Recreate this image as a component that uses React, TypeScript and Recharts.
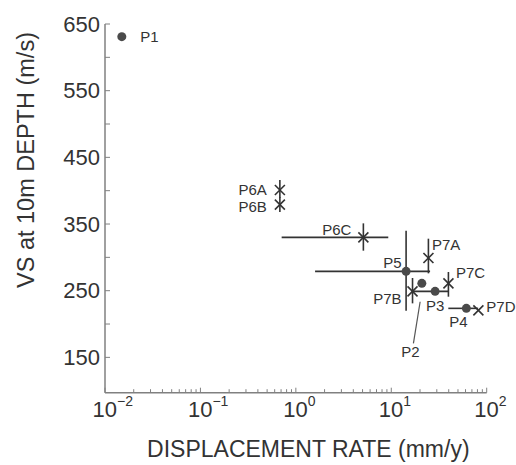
import React from "react";
import { ScatterChart, Scatter, XAxis, YAxis, ErrorBar, Label } from "recharts";

// round markers (P series)
const dotNames = ["P1", "P2", "P3", "P4", "P5"];
const dotRate = [0.015, 20.9, 28.8, 61.2, 14.3];
const dotRateLow = [0.015, 20.9, 16.9, 39.6, 1.59];
const dotRateHigh = [0.015, 20.9, 39.4, 81.3, 25.5];
const dotVs = [631, 261, 249, 223.5, 279];
const dotVsLow = [631, 261, 249, 223.5, 220];
const dotVsHigh = [631, 261, 249, 223.5, 340];

// cross markers
const crossNames = ["P6A", "P6B", "P6C", "P7A", "P7B", "P7C", "P7D"];
const crossRate = [0.68, 0.68, 5.1, 24.5, 16.7, 39.7, 81.8];
const crossRateLow = [0.68, 0.68, 0.71, 24.5, 16.7, 39.7, 81.8];
const crossRateHigh = [0.68, 0.68, 9.3, 24.5, 16.7, 39.7, 81.8];
const crossVs = [401, 379, 330, 299, 249, 261, 220.5];
const crossVsLow = [389, 368, 310, 276, 231, 241, 220.5];
const crossVsHigh = [416, 390, 351, 328, 269, 278, 220.5];

// axis ticks
const decades = [0.01, 0.1, 1, 10, 100];
const decadeExp = ["−2", "−1", "0", "1", "2"];
const minorMult = [2, 3, 4, 5, 6, 7, 8, 9];
const xTicks = [
  ...decades,
  ...decades.slice(0, 4).flatMap((d) => minorMult.map((m) => +(d * m).toPrecision(3))),
].sort((a, b) => a - b);
const yTicks = [150, 200, 250, 300, 350, 400, 450, 500, 550, 600, 650];
const yLabelled = [150, 250, 350, 450, 550, 650];

// label placement relative to the marker (px)
const place: Record<string, { dx: number; dy: number; a: "start" | "middle" | "end" }> = {
  P1: { dx: 18.5, dy: 0, a: "start" },
  P2: { dx: -11.5, dy: 68, a: "middle" },
  P3: { dx: 0, dy: 14, a: "middle" },
  P4: { dx: -8, dy: 13.5, a: "middle" },
  P5: { dx: -4.5, dy: -9, a: "end" },
  P6A: { dx: -13, dy: -1, a: "end" },
  P6B: { dx: -13, dy: 2, a: "end" },
  P6C: { dx: -12, dy: -8, a: "end" },
  P7A: { dx: 3.5, dy: -14, a: "start" },
  P7B: { dx: -11, dy: 7, a: "end" },
  P7C: { dx: 7.5, dy: -11, a: "start" },
  P7D: { dx: 8, dy: -4, a: "start" },
};

const build = (
  names: string[], rate: number[], lo: number[], hi: number[],
  vs: number[], vlo: number[], vhi: number[]
) =>
  names.map((name, i) => ({
    name,
    rate: rate[i],
    vs: vs[i],
    ex: [rate[i] - lo[i], hi[i] - rate[i]],
    ey: [vs[i] - vlo[i], vhi[i] - vs[i]],
  }));

const dotData = build(dotNames, dotRate, dotRateLow, dotRateHigh, dotVs, dotVsLow, dotVsHigh);
const crossData = build(crossNames, crossRate, crossRateLow, crossRateHigh, crossVs, crossVsLow, crossVsHigh);

const FONT = "'Liberation Sans', Arial, sans-serif";
const INK = "#333";
const AXIS = "#808080";

function PointLabel({ cx, cy, name }: { cx: number; cy: number; name: string }) {
  const p = place[name];
  return (
    <g>
      {name === "P2" && (
        <line x1={cx - 8.4} y1={cy + 60} x2={cx - 1.7} y2={cy + 18.4} stroke="#555" strokeWidth={1.2} />
      )}
      <text
        x={cx + p.dx}
        y={cy + p.dy}
        textAnchor={p.a}
        dominantBaseline="central"
        fontSize={15}
        fontFamily={FONT}
        fill={INK}
      >
        {name}
      </text>
    </g>
  );
}

const DotShape = (props: any) => {
  const { cx, cy, payload } = props;
  return (
    <g>
      <circle cx={cx} cy={cy} r={4.5} fill="#4a4a4a" />
      <PointLabel cx={cx} cy={cy} name={payload.name} />
    </g>
  );
};

const CrossShape = (props: any) => {
  const { cx, cy, payload } = props;
  const s = 5;
  return (
    <g>
      <line x1={cx - s} y1={cy - s} x2={cx + s} y2={cy + s} stroke={INK} strokeWidth={1.6} />
      <line x1={cx - s} y1={cy + s} x2={cx + s} y2={cy - s} stroke={INK} strokeWidth={1.6} />
      <PointLabel cx={cx} cy={cy} name={payload.name} />
    </g>
  );
};

const XTick = (props: any) => {
  const { x, y, payload } = props;
  const i = decades.indexOf(payload.value);
  const major = i >= 0;
  return (
    <g>
      <line x1={x} y1={y} x2={x} y2={y - (major ? 5 : 3.5)} stroke={AXIS} strokeWidth={1} />
      {major && (
        <text x={x - 12.5} y={y + 24} fontSize={22} fontFamily={FONT} fill={INK}>
          10
          <tspan dy={-11} fontSize={14}>
            {decadeExp[i]}
          </tspan>
        </text>
      )}
    </g>
  );
};

const YTick = (props: any) => {
  const { x, y, payload } = props;
  const show = yLabelled.includes(payload.value);
  return (
    <g>
      <line x1={x} y1={y} x2={x + 5} y2={y} stroke={AXIS} strokeWidth={1} />
      {show && (
        <text x={x - 5} y={y + 7.5} textAnchor="end" fontSize={22} fontFamily={FONT} fill={INK}>
          {payload.value}
        </text>
      )}
    </g>
  );
};

export default function App() {
  return (
    <div style={{ position: "absolute", left: 0, top: 0, background: "#fff" }}>
      <ScatterChart width={516} height={465} margin={{ top: 24, right: 29.3, bottom: 7.3, left: 0 }}>
        <XAxis
          type="number"
          dataKey="rate"
          scale="log"
          domain={[0.01, 100]}
          ticks={xTicks}
          interval={0}
          tick={<XTick />}
          tickLine={false}
          tickSize={0}
          tickMargin={0}
          height={65}
          axisLine={{ stroke: AXIS, strokeWidth: 1.5 }}
        >
          <Label
            content={(p: any) => {
              const vb = p.viewBox;
              return (
                <text
                  x={vb.x + vb.width / 2 + 12.5}
                  y={vb.y + 64.6}
                  textAnchor="middle"
                  fontSize={23}
                  fontFamily={FONT}
                  fill={INK}
                >
                  DISPLACEMENT RATE (mm/y)
                </text>
              );
            }}
          />
        </XAxis>
        <YAxis
          type="number"
          dataKey="vs"
          domain={[97, 650]}
          ticks={yTicks}
          interval={0}
          tick={<YTick />}
          tickLine={false}
          tickSize={0}
          tickMargin={0}
          width={105}
          axisLine={{ stroke: AXIS, strokeWidth: 1.5 }}
        >
          <Label
            content={(p: any) => {
              const vb = p.viewBox;
              const cx = vb.x + 26;
              const cy = vb.y + 136;
              return (
                <text
                  x={cx}
                  y={cy}
                  transform={`rotate(-90, ${cx}, ${cy})`}
                  textAnchor="middle"
                  dominantBaseline="central"
                  fontSize={23.5}
                  fontFamily={FONT}
                  fill={INK}
                >
                  VS at 10m DEPTH (m/s)
                </text>
              );
            }}
          />
        </YAxis>
        <Scatter data={dotData} shape={DotShape} isAnimationActive={false}>
          <ErrorBar dataKey="ex" direction="x" width={0} stroke={INK} strokeWidth={1.6} isAnimationActive={false} />
          <ErrorBar dataKey="ey" direction="y" width={0} stroke={INK} strokeWidth={1.6} isAnimationActive={false} />
        </Scatter>
        <Scatter data={crossData} shape={CrossShape} isAnimationActive={false}>
          <ErrorBar dataKey="ex" direction="x" width={0} stroke={INK} strokeWidth={1.6} isAnimationActive={false} />
          <ErrorBar dataKey="ey" direction="y" width={0} stroke={INK} strokeWidth={1.6} isAnimationActive={false} />
        </Scatter>
      </ScatterChart>
    </div>
  );
}
